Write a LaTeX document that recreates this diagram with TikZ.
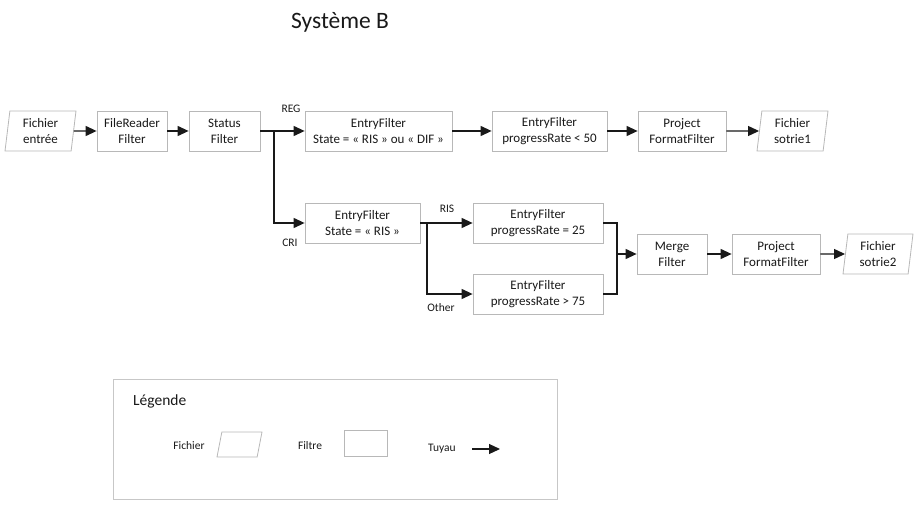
\documentclass[tikz,border=0pt]{standalone}
\usepackage{fontspec}
\setmainfont{Carlito}
\usetikzlibrary{shapes.geometric,arrows.meta}
\tikzstyle{filtre}=[rectangle, draw=black!28, fill=white, line width=0.8pt, minimum height=40pt, inner sep=0pt, align=center, font=\fontsize{13}{16}\selectfont]
\tikzstyle{fichier}=[trapezium, trapezium left angle=79, trapezium right angle=101, trapezium stretches body, draw=black!28, fill=white, line width=0.8pt, minimum height=40pt, inner sep=0pt, align=center, font=\fontsize{13}{16}\selectfont]
\tikzstyle{pipe}=[line width=1.2pt, -{Triangle[length=11pt, width=10pt]}]
\tikzstyle{tag}=[font=\fontsize{11.5}{14}\selectfont, inner sep=0pt]

\begin{document}
\begin{tikzpicture}[x=1pt, y=-1pt, color=black!90]
    \useasboundingbox (0,0) rectangle (919,508);
    \node[font=\fontsize{23.5}{28}\selectfont] (0) at (340,22) {Système B};
    % first line
    \node[fichier, minimum width=71pt] (11) at (40.5,131) {Fichier\\entrée};
    \node[filtre, minimum width=70pt] (12) at (132,131) {FileReader\\Filter};
    \node[filtre, minimum width=71pt] (13) at (224.5,131) {Status\\Filter};
    \node[filtre, minimum width=147pt] (14) at (378.5,131) {EntryFilter\\State = « RIS » ou « DIF »};
    \node[filtre, minimum width=115pt] (15) at (549.5,131) {EntryFilter\\progressRate < 50};
    \node[filtre, minimum width=88pt] (16) at (682,131) {Project\\FormatFilter};
    \node[fichier, minimum width=71pt] (17) at (792.5,131) {Fichier\\sotrie1};
    % second line
    \node[filtre, minimum width=115pt] (21) at (362.5,223) {EntryFilter\\State = « RIS »};
    \node[filtre, minimum width=130pt] (22) at (538,223) {EntryFilter\\progressRate = 25};
    \node[filtre, minimum width=130pt] (23) at (538,294) {EntryFilter\\progressRate > 75};
    \node[filtre, minimum width=70pt] (24) at (672,254) {Merge\\Filter};
    \node[filtre, minimum width=88pt] (25) at (776,254) {Project\\FormatFilter};
    \node[fichier, minimum width=70pt] (26) at (878,254) {Fichier\\sotrie2};
    \coordinate (s1) at (274,131);
    \coordinate (s2) at (427,223);
    \coordinate (m1) at (617,254);
    \draw[pipe] (11) -- (12);
    \draw[pipe] (12) -- (13);
    \draw[pipe] (13) -- (14);
    \draw[pipe] (s1) |- (21);
    \draw[pipe] (14) -- (15);
    \draw[pipe] (15) -- (16);
    \draw[pipe] (16) -- (17);
    \draw[pipe] (21) -- (22);
    \draw[pipe] (s2) |- (23);
    \draw[line width=1.2pt] (22) -| (m1) |- (23);
    \draw[pipe] (m1) -- (24);
    \draw[pipe] (24) -- (25);
    \draw[pipe] (25) -- (26);
    \node[tag] (31) at (291,109) {REG};
    \node[tag] (32) at (290,243) {CRI};
    \node[tag] (33) at (447,209) {RIS};
    \node[tag] (34) at (441,308) {Other};
    % legend
    \node[rectangle, draw=black!22, line width=0.8pt, minimum width=444pt, minimum height=120pt] (40) at (335,439) {};
    \node[anchor=west, inner sep=0pt, font=\fontsize{15.5}{18}\selectfont] (41) at (133,401) {Légende};
    \node[tag] (42) at (189,446) {Fichier};
    \node[fichier, minimum width=45pt, minimum height=0pt] (43) at (239.5,444.5) {\rule{0pt}{25pt}};
    \node[tag] (44) at (310,446) {Filtre};
    \node[filtre, minimum width=43pt, minimum height=26pt] (45) at (365.5,443) {};
    \node[tag] (46) at (442,449) {Tuyau};
    \coordinate (47) at (472,449);
    \coordinate (48) at (500,449);
    \draw[pipe] (47) -- (48);
\end{tikzpicture}
\end{document}
